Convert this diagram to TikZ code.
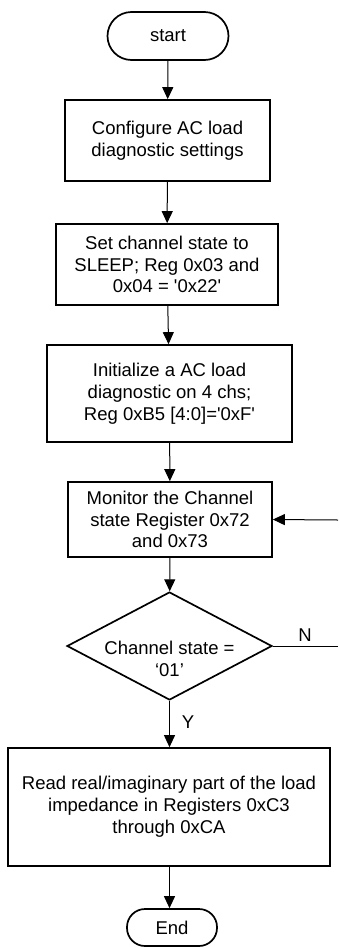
\documentclass[tikz,border=0pt]{standalone}
\usepackage{fontspec}
\setmainfont{Liberation Sans}
\usetikzlibrary{shapes.geometric,arrows.meta}

\begin{document}
\begin{tikzpicture}[x=1pt,y=-1pt,
    font=\fontsize{18.5}{21.8}\selectfont,
    procbox/.style={draw, line width=1.7pt, align=center, inner sep=0pt},
    termbox/.style={draw, line width=1.7pt, inner sep=0pt, rounded corners=#1},
    decbox/.style={draw, diamond, line width=1.7pt, inner sep=0pt, aspect=1.9},
    flow/.style={line width=1pt, -{Triangle[length=12pt,width=11pt]}},
    plain/.style={line width=1pt}]
    \useasboundingbox (0,0) rectangle (338,948);

    % Draw the steps
    \node[termbox=24pt, minimum width=121pt, minimum height=48pt] (start) at (168,36) {start};
    \node[procbox, minimum width=205pt, minimum height=81pt] (config) at (167.5,140.5)
        {Configure AC load\\diagnostic settings};
    \node[procbox, minimum width=222pt, minimum height=81pt] (sleep) at (167,264.5)
        {Set channel state to\\SLEEP; Reg 0x03 and\\0x04 = \textquotesingle 0x22\textquotesingle};
    \node[procbox, minimum width=245pt, minimum height=97pt] (init) at (169.5,393.5)
        {Initialize a AC load\\diagnostic on 4 chs;\\Reg 0xB5 [4:0]=\textquotesingle 0xF\textquotesingle};
    \node[procbox, minimum width=204pt, minimum height=75pt] (monitor) at (170,519.5)
        {Monitor the Channel\\state Register 0x72\\and 0x73};
    \node[decbox, minimum width=205pt, minimum height=108pt,
        label={[name=dectext, align=center, yshift=-13pt]center:Channel state =\\‘01’}] (state) at (169.5,646) {};
    \node[procbox, minimum width=322pt, minimum height=118pt] (read) at (169,807)
        {Read real/imaginary part of the load\\impedance in Registers 0xC3\\through 0xCA};
    \node[termbox=18pt, minimum width=90pt, minimum height=37pt] (end) at (172,927.5) {End};

    % Draw the flow
    \draw[flow] (start) -- (config);
    \draw[flow] (config) -- (sleep);
    \draw[flow] (sleep) -- (init);
    \draw[flow] (init) -- (monitor);
    \draw[flow] (monitor) -- (state);
    \draw[flow] (state.south) -- (read.north -| state.south);
    \draw[flow] (read.south -| state.south) -- (end.north -| state.south);

    % Loop back on the right
    \coordinate (nout) at (338,646);
    \coordinate (back) at (338,520);
    \draw[plain] (state.east) -- (nout);
    \draw[flow] (back) -- (monitor.east);

    \node (lblN) at (305,635) {N};
    \node (lblY) at (188,722) {Y};
\end{tikzpicture}
\end{document}
